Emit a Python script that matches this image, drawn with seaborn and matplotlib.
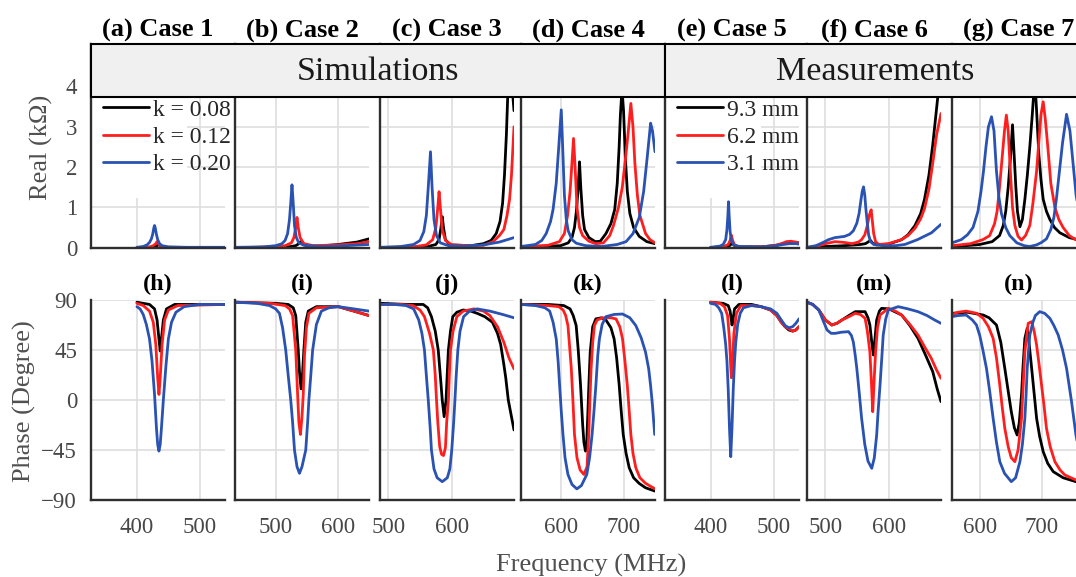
"""
Real part and phase of the input impedance versus frequency:
simulations (k sweep) and measurements (gap sweep), seven cases.
Saves out.png.
"""

import matplotlib

matplotlib.use("Agg")
import matplotlib.pyplot as plt
import pandas as pd
import seaborn as sns
from matplotlib.lines import Line2D
from matplotlib.patches import Rectangle

# ---- data: (frequency MHz, value) ----
# top row: real part (kOhm)
A_BLACK = [(400, 0.0), (425, 0.01), (431, 0.04), (435, 0.08), (438, 0.04), (445, 0.01), (540, 0.0)]
A_RED = [(400, 0.0), (420, 0.02), (426, 0.05), (430, 0.1), (432, 0.15), (434, 0.1), (438, 0.04),
         (450, 0.01), (540, 0.0)]
A_BLUE = [(400, 0.01), (410, 0.03), (416, 0.07), (420, 0.13), (423, 0.22), (425, 0.33), (427, 0.5),
          (428, 0.55), (429, 0.5), (431, 0.33), (433, 0.2), (436, 0.1), (440, 0.05), (450, 0.02),
          (480, 0.01), (540, 0.01)]

B_BLACK = [(436, 0.0), (520, 0.02), (532, 0.05), (537, 0.1), (540, 0.15), (543, 0.1), (550, 0.04),
           (570, 0.04), (600, 0.08), (630, 0.14), (649, 0.22)]
B_RED = [(436, 0.0), (500, 0.02), (515, 0.05), (525, 0.12), (529, 0.25), (532, 0.5), (534, 0.75),
         (536, 0.5), (539, 0.25), (545, 0.1), (560, 0.05), (600, 0.07), (630, 0.1), (649, 0.15)]
B_BLUE = [(436, 0.01), (480, 0.02), (500, 0.05), (510, 0.1), (515, 0.18), (519, 0.35), (522, 0.7),
          (524, 1.1), (526, 1.56), (528, 1.1), (530, 0.55), (533, 0.25), (537, 0.12), (545, 0.06),
          (570, 0.03), (600, 0.04), (649, 0.08)]

C_BLACK = [(487, 0.0), (560, 0.02), (575, 0.08), (580, 0.2), (583, 0.5), (585, 0.77), (587, 0.5),
           (590, 0.2), (597, 0.07), (630, 0.05), (650, 0.1), (662, 0.18), (670, 0.35), (676, 0.65),
           (680, 1.1), (683, 1.8), (686, 2.8), (688, 3.7), (691, 4.5), (694, 4.3), (696, 3.8),
           (698, 3.4)]
C_RED = [(487, 0.0), (540, 0.02), (560, 0.07), (570, 0.2), (575, 0.5), (578, 1.0), (580, 1.39),
         (582, 1.0), (585, 0.45), (590, 0.18), (600, 0.07), (630, 0.05), (650, 0.06), (665, 0.15),
         (675, 0.3), (682, 0.45), (687, 0.8), (691, 1.2), (694, 1.8), (696, 2.4), (698, 3.0)]
C_BLUE = [(487, 0.01), (520, 0.03), (540, 0.08), (550, 0.18), (556, 0.4), (560, 0.8), (563, 1.5),
          (566.5, 2.38), (569, 1.5), (572, 0.7), (576, 0.3), (582, 0.12), (595, 0.05), (620, 0.04),
          (650, 0.07), (675, 0.14), (698, 0.25)]

D_BLACK = [(537, 0.02), (600, 0.05), (612, 0.12), (618, 0.25), (622, 0.5), (625, 0.9), (628, 1.5),
           (630, 2.13), (632, 1.5), (635, 0.8), (638, 0.45), (645, 0.25), (655, 0.15), (663, 0.16),
           (672, 0.35), (680, 0.6), (686, 0.95), (690, 1.6), (693, 2.5), (695, 3.3), (697.4, 3.9),
           (700, 3.4), (703, 2.2), (706, 1.4), (710, 0.85), (716, 0.5), (725, 0.28), (737, 0.15),
           (750, 0.1)]
D_RED = [(537, 0.02), (580, 0.06), (598, 0.15), (606, 0.35), (611, 0.8), (615, 1.4), (618, 2.1),
         (620.5, 2.71), (623, 2.0), (626, 1.0), (630, 0.5), (635, 0.3), (645, 0.16), (656, 0.1),
         (668, 0.12), (678, 0.3), (684, 0.55), (692, 1.0), (698, 1.5), (703, 2.2), (707, 2.8),
         (711.6, 3.58), (715, 3.0), (718, 2.1), (722, 1.3), (726, 0.8), (735, 0.35), (742, 0.2),
         (750, 0.12)]
D_BLUE = [(537, 0.03), (560, 0.08), (570, 0.18), (577, 0.35), (584, 0.65), (588, 0.95), (593, 1.6),
          (597, 2.5), (601, 3.42), (603, 2.6), (606, 1.3), (609, 0.7), (612, 0.42), (618, 0.2),
          (625, 0.11), (640, 0.05), (665, 0.03), (690, 0.08), (704, 0.15), (715, 0.35), (725, 0.75),
          (732, 1.4), (738, 2.3), (743, 3.09), (746, 2.9), (750, 2.38)]

E_BLACK = [(400, 0.0), (425, 0.02), (431, 0.06), (434, 0.12), (437, 0.06), (445, 0.02), (480, 0.02),
           (505, 0.06), (520, 0.12), (530, 0.13), (540, 0.12)]
E_RED = [(400, 0.0), (420, 0.02), (428, 0.08), (431, 0.18), (433, 0.31), (435, 0.18), (438, 0.07),
         (445, 0.02), (480, 0.02), (500, 0.05), (512, 0.1), (520, 0.15), (527, 0.16), (535, 0.14),
         (540, 0.12)]
E_BLUE = [(400, 0.01), (415, 0.04), (420, 0.08), (424, 0.2), (426, 0.45), (427.5, 0.8), (428.5, 1.14),
          (429.5, 0.8), (431, 0.4), (433, 0.18), (437, 0.07), (445, 0.03), (480, 0.02), (500, 0.04),
          (515, 0.08), (525, 0.1), (535, 0.1), (540, 0.09)]

F_BLACK = [(471, 0.0), (500, 0.03), (530, 0.05), (555, 0.08), (563, 0.1), (568, 0.15), (571, 0.18),
           (574, 0.12), (580, 0.07), (600, 0.09), (620, 0.2), (630, 0.32), (641, 0.55), (650, 0.85),
           (656, 1.2), (663, 1.8), (669, 2.55), (674, 3.3), (677, 3.75), (682, 4.3)]
F_RED = [(471, 0.0), (490, 0.05), (500, 0.1), (515, 0.15), (530, 0.13), (542, 0.1), (552, 0.14),
         (557, 0.2), (562, 0.32), (566, 0.55), (569, 0.8), (572, 0.94), (574, 0.65), (576, 0.35),
         (579, 0.15), (584, 0.08), (599, 0.1), (620, 0.2), (630, 0.3), (641, 0.48), (650, 0.72),
         (656, 0.97), (663, 1.45), (669, 2.1), (675, 2.8), (682, 3.33)]
F_BLUE = [(471, 0.01), (485, 0.05), (495, 0.12), (505, 0.2), (515, 0.25), (530, 0.28), (538, 0.33),
          (544, 0.42), (549.5, 0.61), (553, 0.85), (556, 1.19), (558, 1.4), (560, 1.51), (562, 1.3),
          (563.5, 1.0), (566, 0.6), (568, 0.32), (571, 0.15), (576, 0.08), (590, 0.05), (610, 0.05),
          (625, 0.08), (645, 0.2), (667, 0.37), (682, 0.58)]

G_BLACK = [(555, 0.02), (600, 0.08), (620, 0.15), (632, 0.3), (638, 0.55), (642, 0.9), (646, 1.5),
           (650, 2.3), (653, 3.05), (656, 2.2), (658.4, 1.5), (661, 0.9), (665, 0.52), (669, 0.7),
           (673, 1.2), (677, 1.8), (681, 2.5), (685, 3.3), (689, 4.2), (692, 3.4), (695.7, 2.3),
           (699, 1.7), (702.7, 1.2), (708, 0.9), (713.5, 0.7), (721, 0.5), (729.7, 0.37), (745, 0.25),
           (772, 0.15)]
G_RED = [(555, 0.05), (585, 0.1), (605, 0.2), (616, 0.3), (624, 0.6), (628, 0.9), (632, 1.5),
         (636, 2.2), (640, 2.9), (643, 3.29), (646, 2.9), (650, 1.76), (653, 1.0), (656.8, 0.55),
         (662, 0.28), (667.6, 0.19), (674, 0.3), (681, 0.55), (686, 1.1), (689, 1.5), (692, 1.9),
         (696, 2.7), (699, 3.3), (702.7, 3.62), (706, 3.2), (709, 2.7), (711, 2.35), (715, 1.6),
         (721.6, 1.0), (728, 0.7), (735, 0.5), (745, 0.3), (755, 0.2), (772, 0.12)]
G_BLUE = [(555, 0.12), (570, 0.2), (580, 0.32), (589, 0.5), (597, 0.9), (602, 1.4), (606, 1.9),
          (610, 2.5), (614, 3.0), (619, 3.25), (623, 2.9), (627, 1.9), (631, 1.25), (635, 0.85),
          (642, 0.5), (648.6, 0.3), (660, 0.12), (672, 0.05), (681, 0.03), (692, 0.07), (700, 0.13),
          (708, 0.22), (715, 0.45), (720, 0.75), (724, 1.2), (729, 1.9), (734, 2.6), (740.5, 3.31),
          (746, 2.9), (751, 2.1), (756, 1.3), (762, 0.75), (772, 0.4)]

# bottom row: phase (degree)
H_BLACK = [(400, 88), (420, 86), (428, 82), (432, 72), (435, 55), (437, 44), (439, 55), (442, 72),
           (447, 82), (460, 86), (540, 86)]
H_RED = [(400, 87), (410, 85), (420, 80), (426, 70), (430, 50), (433, 20), (435, 5), (437, 20),
         (440, 50), (444, 72), (450, 81), (465, 85), (540, 86)]
H_BLUE = [(400, 84), (405, 82), (410, 77), (415, 68), (420, 55), (424, 35), (428, 5), (431, -25),
          (433, -40), (435, -46), (437, -40), (439, -25), (442, 0), (446, 30), (450, 55), (455, 70),
          (462, 79), (475, 84), (500, 86), (540, 86)]

I_BLACK = [(436, 88), (500, 87), (520, 86), (528, 83), (532, 76), (536, 45), (538, 25), (540.5, 10),
           (543, 25), (545, 45), (548, 70), (552, 80), (565, 84), (600, 84), (625, 80), (649, 76)]
I_RED = [(436, 88), (490, 87), (515, 85), (522, 82), (527, 76), (532, 45), (535, 5), (537, -20),
         (539.5, -31), (542, -15), (544, 5), (546, 40), (549, 65), (553, 78), (565, 83), (600, 84),
         (625, 80), (649, 76)]
I_BLUE = [(436, 88), (470, 87), (490, 85), (500, 82), (506, 78), (511, 65), (516, 45), (520, 22),
          (524, 0), (527, -20), (530, -45), (534, -60), (538, -66), (542, -60), (548, -45), (551, -20),
          (553, 0), (556, 22), (559, 45), (565, 68), (573, 80), (585, 83), (600, 84), (625, 82),
          (649, 80)]

J_BLACK = [(487, 87), (530, 86), (555, 86), (562, 83), (568, 75), (574, 62), (578.7, 45), (582, 22),
           (585, 0), (588, -15), (591, 0), (593, 25), (594.7, 45), (598, 62), (601.6, 75), (608, 79),
           (618, 81), (630, 80), (640, 78), (652, 75), (664, 70), (672, 60), (677, 50), (682, 32),
           (685, 20), (689, 0), (693, -12), (698, -27)]
J_RED = [(487, 86), (520, 86), (539, 85), (550, 81), (557, 75), (565, 60), (571, 45), (574, 22),
         (576, 0), (578, -20), (581, -42), (584, -49), (587, -50), (590, -43), (592, -20), (594.7, 0),
         (596, 20), (598, 45), (602, 62), (608, 75), (618, 80), (635, 82), (650, 80), (660, 76),
         (672, 66), (682, 52), (690, 38), (698, 28)]
J_BLUE = [(487, 86), (510, 86), (528, 85), (540, 82), (548, 72), (553, 60), (557, 45), (560, 22),
          (563, 0), (566, -25), (568, -45), (572, -62), (577, -70), (585, -73.5), (593, -70),
          (597, -62), (600, -45), (603, -20), (605, 0), (607, 22), (609.6, 45), (613, 62),
          (618.6, 75), (628, 80), (640, 82), (660, 80), (680, 77), (698, 74)]

K_BLACK = [(537, 86), (580, 86), (605, 85), (615, 82), (620, 76), (624.7, 67), (628, 45), (631.6, 14),
           (635, -22), (637, -38), (639.5, -46), (641.5, -38), (643, -16), (645, 15), (647, 43),
           (651, 66), (656, 73), (665, 74), (672, 72), (680, 65), (685, 55), (689, 38), (693, 14),
           (696, -8), (699.5, -31), (704, -48), (709, -61), (716, -70), (724.7, -75), (735, -79),
           (750, -82)]
K_RED = [(537, 86), (580, 85), (597, 84), (604, 81), (608, 76), (611.6, 67), (614, 50), (617, 28),
         (619.5, 0), (622, -31), (626, -52), (631, -63), (637, -67), (642, -60), (644.7, -31),
         (646.5, 0), (648.4, 28), (651, 52), (653.7, 67), (658, 72), (667, 74), (680, 74), (688, 73),
         (694, 66), (698.4, 55), (702, 36), (706, 13), (709, -10), (711.6, -31), (715, -48),
         (719.5, -61), (726, -70), (735, -75), (750, -80)]
K_BLUE = [(537, 86), (560, 85), (575, 83), (582.6, 80), (588, 70), (593, 55), (596, 35), (598.4, 13),
          (601, -10), (603.7, -31), (607, -52), (611.6, -67), (618, -76), (625.8, -80), (633, -77),
          (641.6, -67), (646, -52), (650, -31), (653, -10), (656, 13), (659, 40), (661.6, 55),
          (666, 68), (672, 75), (685, 77), (698.4, 77.4), (710, 74), (719.5, 67), (728, 56),
          (735, 43), (740, 28), (743, 13), (746, -5), (749.5, -31)]

L_BLACK = [(400, 88), (420, 87), (428, 85), (431, 80), (433, 72), (434, 67.5), (435.5, 72), (438, 82),
           (445, 86), (465, 86), (480, 84), (495, 81), (505, 76), (512, 70), (518, 66), (524, 63),
           (530, 62), (535, 63), (540, 66)]
L_RED = [(400, 88), (415, 87), (422, 84), (427, 76), (430, 55), (432, 30), (433, 20), (434.5, 30),
         (437, 60), (441, 78), (448, 85), (465, 85), (480, 84), (495, 81), (505, 76), (512, 70),
         (518, 66), (524, 64), (530, 62), (535, 63), (540, 66)]
L_BLUE = [(400, 87), (408, 86), (413, 83), (417.7, 78), (421, 65), (424, 50), (426, 35), (428, 10),
          (430, -25), (432, -51), (434, -25), (436, 10), (438, 35), (440, 52), (443, 68), (447, 78),
          (452, 83), (465, 85), (480, 84), (495, 82), (505, 78), (512, 72), (518, 67), (524, 65),
          (530, 66), (535, 69), (540, 73)]

M_BLACK = [(471, 88), (480, 86), (489.6, 81), (500, 72), (510, 67.5), (518, 69), (526, 72), (537, 76),
           (547, 79.5), (562.5, 79.5), (567, 74), (570, 67.5), (573, 52), (575.5, 40.5), (578, 55),
           (580.7, 72), (585, 80), (588.5, 82.5), (600, 82), (620, 76.5), (633, 67), (645.8, 55.5),
           (658, 40), (669, 25.5), (676, 10), (682, -1.5)]
M_RED = [(471, 88), (480, 86), (489.6, 81), (500, 72), (510, 67.5), (518, 69), (526, 72), (537, 75),
         (547, 78), (555, 77), (562.5, 73.5), (566, 62), (570, 43.5), (572.5, 15), (574.5, -10.5),
         (576.5, 15), (579, 43.5), (582, 65), (586, 76.5), (599, 82.5), (610, 80), (620, 76.5),
         (633, 68), (645.8, 58.5), (656, 48), (666.7, 37.5), (675, 27), (682, 19.5)]
M_BLUE = [(471, 88), (480, 86), (489.6, 81), (496, 72), (502.6, 63), (509, 60), (515.6, 60), (525, 61),
          (536.5, 61.5), (541, 58), (544, 52), (547, 40), (549.5, 28), (553, 8), (557, -16.5),
          (562, -40), (567, -55), (573, -61.5), (577, -52), (580.7, -31.5), (583, -10), (586, 13.5),
          (589, 40), (591, 58.5), (595, 73), (599, 81), (614.6, 84), (630, 82), (645.8, 79.5),
          (660, 76), (672, 72), (682, 69)]

N_BLACK = [(555, 78), (580, 79), (605.4, 76.5), (615, 74), (627, 67.5), (634, 52), (640.5, 28.5),
           (646, 8), (651, -10.5), (656, -25), (660.5, -31.5), (664, -20), (667.6, 5), (670, 30),
           (673, 55.5), (676.8, 64.5), (680, 50), (684, 28.5), (688, 6), (692, -16.5), (697, -33),
           (702.7, -46.5), (710, -57), (719, -64.5), (735, -70), (755.7, -73.5), (772, -75)]
N_RED = [(555, 77), (565, 79), (578, 80), (595, 78), (605.4, 73.5), (614, 66), (621.6, 55.5),
         (627, 38), (632.4, 13.5), (636, -5), (640.5, -25.5), (646, -42), (651, -52), (656.8, -55.5),
         (662, -45), (667.6, -16.5), (670, 10), (673, 43.5), (678.4, 69), (684, 70.5), (688, 62),
         (692, 49.5), (696, 32), (700, 13.5), (704, -5), (708, -25.5), (714, -42), (721.6, -55.5),
         (730, -63), (737.8, -67.5), (755.7, -72), (772, -74)]
N_BLUE = [(555, 75), (565, 76), (578, 76.5), (588, 72), (594.6, 67.5), (600, 58), (605, 45),
          (610.8, 28.5), (616, 8), (621.6, -16.5), (627, -38), (632.4, -55.5), (640, -66),
          (651, -73.5), (658, -70), (665, -55.5), (669, -40), (673, -16.5), (675, 5), (676.8, 28.5),
          (679, 45), (681, 58.5), (686, 70), (690, 76), (697, 79.5), (705, 78), (713.5, 73.5),
          (720, 67), (727, 58.5), (734, 45), (740.5, 28.5), (745, 12), (748.6, -1.5), (755.7, -31.5),
          (762, -50), (772, -65)]

REAL_CURVES = [
    (A_BLACK, A_RED, A_BLUE), (B_BLACK, B_RED, B_BLUE), (C_BLACK, C_RED, C_BLUE),
    (D_BLACK, D_RED, D_BLUE), (E_BLACK, E_RED, E_BLUE), (F_BLACK, F_RED, F_BLUE),
    (G_BLACK, G_RED, G_BLUE),
]
PHASE_CURVES = [
    (H_BLACK, H_RED, H_BLUE), (I_BLACK, I_RED, I_BLUE), (J_BLACK, J_RED, J_BLUE),
    (K_BLACK, K_RED, K_BLUE), (L_BLACK, L_RED, L_BLUE), (M_BLACK, M_RED, M_BLUE),
    (N_BLACK, N_RED, N_BLUE),
]

CASE_TITLES = ["(a) Case 1", "(b) Case 2", "(c) Case 3", "(d) Case 4",
               "(e) Case 5", "(f) Case 6", "(g) Case 7"]
PHASE_TITLES = ["(h)", "(i)", "(j)", "(k)", "(l)", "(m)", "(n)"]
SIM_LABELS = ["k = 0.08", "k = 0.12", "k = 0.20"]
MEAS_LABELS = ["9.3 mm", "6.2 mm", "3.1 mm"]
X_LIMITS = [(327, 540), (435, 649), (487, 698), (537, 750), (328, 540), (471, 682), (555, 772)]
X_TICKS = [[400, 500], [500, 600], [500, 600], [600, 700], [400, 500], [500, 600], [600, 700]]
REAL_TICKS = [0, 1, 2, 3, 4]
PHASE_TICKS = [-90, -45, 0, 45, 90]

SERIES = ["black", "red", "blue"]
PALETTE = {"black": "#000000", "red": "#ff1e1e", "blue": "#2a52b2"}

# ---- layout, in pixels of the 1076 x 577 canvas ----
W, H = 1076, 577
COL_LEFT = [91, 235, 380, 521, 665, 807, 952]
COL_WIDTH = 134
TOP_Y0, TOP_Y1 = 44, 247.7      # header top .. zero line
BOT_Y0, BOT_Y1 = 300, 500
SPINE = "#2e2e2e"
TEXT_GRAY = "#474747"
LINE_W = 2.0


def fx(px):
    return px / W


def fy(py):
    return 1 - py / H


def to_frame(curves):
    rows = []
    for name, points in zip(SERIES, curves):
        for freq, value in points:
            rows.append({"freq": freq, "value": value, "series": name})
    return pd.DataFrame(rows)


def style_axes(ax, show_y):
    for side in ("top", "right"):
        ax.spines[side].set_visible(False)
    for side in ("left", "bottom"):
        ax.spines[side].set_color(SPINE)
        ax.spines[side].set_linewidth(1.7)
    ax.grid(True, color="#dedede", linewidth=1.2)
    ax.set_axisbelow(True)
    ax.tick_params(direction="in", length=4, width=1, color=SPINE,
                   labelsize=16.5, labelcolor=TEXT_GRAY)
    ax.tick_params(axis="y", pad=10, labelleft=show_y)
    ax.tick_params(axis="x", pad=12)
    ax.set_xlabel("")
    ax.set_ylabel("")


def draw_panel(ax, curves, xlim, xticks):
    sns.lineplot(
        data=to_frame(curves),
        x="freq",
        y="value",
        hue="series",
        hue_order=SERIES,
        palette=PALETTE,
        estimator=None,
        sort=False,
        linewidth=LINE_W,
        legend=False,
        ax=ax,
    )
    ax.set_xlim(*xlim)
    ax.set_xticks(xticks)


def add_legend(ax, labels, x_px):
    handles = [Line2D([], [], color=PALETTE[s], linewidth=LINE_W) for s in SERIES]
    ax.legend(
        handles,
        labels,
        loc="upper left",
        bbox_to_anchor=(fx(x_px), fy(99)),
        bbox_transform=ax.figure.transFigure,
        frameon=False,
        fontsize=17,
        handlelength=1.95,
        handletextpad=0.15,
        labelspacing=0.25,
        borderpad=0,
        borderaxespad=0,
    )


def main():
    sns.set_theme(style="white")
    plt.rcParams["font.family"] = ["Liberation Serif", "DejaVu Serif"]

    fig = plt.figure(figsize=(W / 100, H / 100), dpi=100)

    for col in range(7):
        left = fx(COL_LEFT[col])
        width = COL_WIDTH / W

        ax_top = fig.add_axes([left, fy(TOP_Y1), width, (TOP_Y1 - TOP_Y0) / H])
        draw_panel(ax_top, REAL_CURVES[col], X_LIMITS[col], X_TICKS[col])
        ax_top.set_ylim(0, (TOP_Y1 - TOP_Y0) / 40.3)
        ax_top.set_yticks(REAL_TICKS)
        style_axes(ax_top, show_y=(col == 0))
        ax_top.tick_params(axis="x", labelbottom=False)

        ax_bot = fig.add_axes([left, fy(BOT_Y1), width, (BOT_Y1 - BOT_Y0) / H])
        draw_panel(ax_bot, PHASE_CURVES[col], X_LIMITS[col], X_TICKS[col])
        ax_bot.set_ylim(-90, 90)
        ax_bot.set_yticks(PHASE_TICKS)
        style_axes(ax_bot, show_y=(col == 0))

        centre = fx(COL_LEFT[col] + COL_WIDTH / 2)
        fig.text(centre, fy(30), CASE_TITLES[col], ha="center", va="center",
                 fontsize=19, fontweight="bold", color="black")
        fig.text(centre, fy(284), PHASE_TITLES[col], ha="center", va="center",
                 fontsize=17.5, fontweight="bold", color="black")

        if col in (0, 4):
            # white legend background hiding the grid, as in the source figure
            x0 = COL_LEFT[col]
            ax_top.add_patch(Rectangle((fx(x0 + 1), fy(198)), 95 / W, 100 / H,
                                       transform=fig.transFigure, facecolor="white",
                                       edgecolor="none", zorder=1.5))
            add_legend(ax_top, SIM_LABELS if col == 0 else MEAS_LABELS, x0 + 12)

    # header boxes over the top row
    for x0, x1, label in [(91, 665, "Simulations"), (665, 1090, "Measurements")]:
        fig.add_artist(Rectangle((fx(x0), fy(97)), (x1 - x0) / W, 53 / H,
                                 transform=fig.transFigure, facecolor="#f0f0f0",
                                 edgecolor="black", linewidth=1.5, zorder=10))
        fig.text(fx((x0 + min(x1, 1086)) / 2), fy(72), label, ha="center", va="center",
                 fontsize=24.5, color="#1a1a1a", zorder=11)

    fig.text(fx(41), fy(147), "Real (kΩ)", rotation=90, ha="center", va="center",
             fontsize=19, color="#505050")
    fig.text(fx(24), fy(401), "Phase (Degree)", rotation=90, ha="center", va="center",
             fontsize=19, color="#505050")
    fig.text(fx(591), fy(565), "Frequency (MHz)", ha="center", va="center",
             fontsize=19, color="#505050")

    fig.savefig("out.png", dpi=100)
    plt.close(fig)


if __name__ == "__main__":
    main()
